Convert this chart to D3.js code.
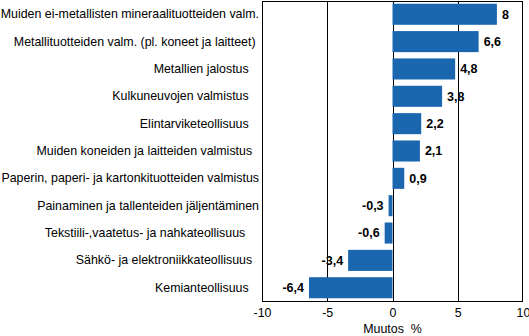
<!DOCTYPE html>
<html>
<head>
<meta charset="utf-8">
<script src="https://cdn.jsdelivr.net/npm/d3@7"></script>
<style>
  html, body { margin: 0; padding: 0; background: #fff; }
  svg { display: block; }
  text { white-space: pre; }
</style>
</head>
<body>
<svg id="chart" width="529" height="336"></svg>
<script>
// Toimialat (trailing spaces kept as in the source labels)
const categories = [
  "Muiden ei-metallisten mineraalituotteiden valm.",
  "Metallituotteiden valm. (pl. koneet ja laitteet) ",
  "Metallien jalostus   ",
  "Kulkuneuvojen valmistus   ",
  "Elintarviketeollisuus   ",
  "Muiden koneiden ja laitteiden valmistus  ",
  "Paperin, paperi- ja kartonkituotteiden valmistus",
  "Painaminen ja tallenteiden jäljentäminen",
  "Tekstiili-,vaatetus- ja nahkateollisuus    ",
  "Sähkö- ja elektroniikkateollisuus  ",
  "Kemianteollisuus   "
];
const values = [8, 6.6, 4.8, 3.8, 2.2, 2.1, 0.9, -0.3, -0.6, -3.4, -6.4];
const xTicks = [-10, -5, 0, 5, 10];
const axisTitle = "Muutos  %";

const svg = d3.select("#chart");
const plot = { left: 262, right: 523, top: 1, bottom: 301 };
const labelFont = "'Liberation Sans', Arial, sans-serif";
const labelSize = 12.4;

const x = d3.scaleLinear().domain([-10, 10]).range([plot.left, plot.right]);
const y = d3.scaleBand().domain(categories).range([plot.top, plot.bottom])
  .paddingInner(0.23).paddingOuter(0.1);

// plain hyphen for negatives, comma as decimal separator
const fmt = d => String(d).replace(".", ",");

// vertical grid lines at the inner ticks
svg.append("g").selectAll("line")
  .data(xTicks.filter(t => t !== -10 && t !== 10))
  .join("line")
  .attr("x1", d => Math.round(x(d)) + 0.5).attr("x2", d => Math.round(x(d)) + 0.5)
  .attr("y1", plot.top).attr("y2", plot.bottom)
  .attr("stroke", "#000").attr("stroke-width", 1);

// bars
svg.append("g").selectAll("rect")
  .data(values)
  .join("rect")
  .attr("x", (d) => x(Math.min(0, d)))
  .attr("width", d => Math.abs(x(d) - x(0)))
  .attr("y", (d, i) => y(categories[i]))
  .attr("height", y.bandwidth())
  .attr("fill", "#1a67b0");

// frame
svg.append("rect")
  .attr("x", plot.left + 0.5).attr("y", plot.top + 0.5)
  .attr("width", plot.right - plot.left - 1).attr("height", plot.bottom - plot.top)
  .attr("fill", "none").attr("stroke", "#000").attr("stroke-width", 1);

// value labels
svg.append("g").selectAll("text")
  .data(values)
  .join("text")
  .attr("x", d => d >= 0 ? x(d) + 5 : x(d) - 5)
  .attr("y", (d, i) => y(categories[i]) + y.bandwidth() / 2)
  .attr("dy", "0.35em")
  .attr("text-anchor", d => d >= 0 ? "start" : "end")
  .attr("font-family", "'Liberation Sans Narrow', 'Liberation Sans', Arial, sans-serif")
  .attr("font-weight", "bold")
  .attr("font-size", 12.5)
  .attr("fill", "#000")
  .text(fmt);

// category labels
const yAxis = d3.axisLeft(y).tickSize(0).tickPadding(3);
const gy = svg.append("g").attr("transform", `translate(${plot.left},0)`).call(yAxis);
gy.select(".domain").remove();
gy.selectAll("text")
  .attr("font-family", labelFont)
  .attr("font-size", labelSize)
  .attr("fill", "#000");

// x axis tick labels
const xAxis = d3.axisBottom(x).tickValues(xTicks).tickSize(0).tickPadding(7)
  .tickFormat(fmt);
const gx = svg.append("g").attr("transform", `translate(0,${plot.bottom})`).call(xAxis);
gx.select(".domain").remove();
gx.selectAll("text")
  .attr("font-family", labelFont)
  .attr("font-size", labelSize)
  .attr("fill", "#000");

// axis title
svg.append("text")
  .attr("x", x(0))
  .attr("y", 333)
  .attr("text-anchor", "middle")
  .attr("font-family", labelFont)
  .attr("font-size", labelSize)
  .attr("fill", "#000")
  .text(axisTitle);
</script>
</body>
</html>
